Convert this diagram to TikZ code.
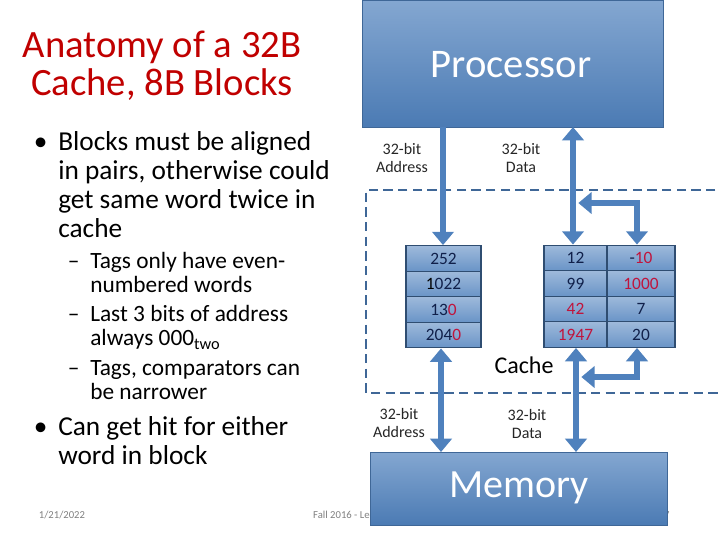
\documentclass[tikz,border=0pt]{standalone}
\usepackage{fontspec}
\setmainfont{Carlito}
\usetikzlibrary{arrows.meta}
\definecolor{ttl}{HTML}{C00000}
\definecolor{ln}{HTML}{4F81BD}
\definecolor{rd}{HTML}{C0143C}
\definecolor{dk}{HTML}{10204A}
\begin{document}
\begin{tikzpicture}[x=0.75pt,y=-0.75pt,
  box/.style={draw=ln!80!black,line width=0.6pt,top color=ln!70!white,bottom color=ln!95!black,text=white},
  cell/.style={draw=ln!60!black,line width=1pt,minimum width=#1*0.75pt,minimum height=25.5*0.75pt,inner sep=0pt,top color=ln!55!white,bottom color=ln!85!white,text=dk,font=\fontsize{13}{14}\selectfont},
  cell/.default=63,
  bus/.style={draw=ln,line width=4.5pt},
  lbl/.style={align=center,font=\fontsize{12}{13}\selectfont,text=black!85},
  big/.style={anchor=north west,align=left,font=\fontsize{20.5}{21.7}\selectfont,inner sep=0pt},
  small/.style={anchor=north west,align=left,font=\fontsize{17.5}{18.3}\selectfont,inner sep=0pt},
  foot/.style={text=black!50,font=\fontsize{8}{9}\selectfont}]
\useasboundingbox (0,0) rectangle (720,540);
% title
\node[text=ttl,align=center,font=\fontsize{29}{28.5}\selectfont] (title) at (162,66) {Anatomy of a 32B\\Cache, 8B Blocks};
% bullets
\node[big] (b1) at (58,131) {\llap{\textbullet\hspace{8pt}}Blocks must be aligned\\in pairs, otherwise could\\get same word twice in\\cache};
\node[small] (b2) at (90,252) {\llap{--\hspace{8pt}}Tags only have even-\\numbered words};
\node[small] (b3) at (90,305) {\llap{--\hspace{8pt}}Last 3 bits of address\\always 000\textsubscript{two}};
\node[small] (b4) at (90,360) {\llap{--\hspace{8pt}}Tags, comparators can\\be narrower};
\node[big] (b5) at (58,416) {\llap{\textbullet\hspace{8pt}}Can get hit for either\\word in block};
% footer
\node[foot] (date) at (62,515) {1/21/2022};
\node[foot] (lec) at (362,515) {Fall 2016 - Lecture \#14};
\node[foot] (pg) at (664,515) {27};
% boxes
\node[box,minimum width=301*0.75pt,minimum height=127*0.75pt] (proc) at (512.5,63.5) {};
\node[text=white,font=\fontsize{30.5}{32}\selectfont] (proct) at (511,65) {Processor};
\node[box,minimum width=297*0.75pt,minimum height=73*0.75pt] (mem) at (518.5,488.5) {};
\node[text=white,font=\fontsize{30}{32}\selectfont] (memt) at (519,488) {Memory};
% cache region
\draw[ln!80!black,line width=2pt,dash pattern=on 7pt off 4pt] (730,190) -- (366,190) -- (366,393) -- (730,393);
\node[font=\fontsize{18}{20}\selectfont] (cachelbl) at (524,365) {Cache};
% tags
\node[cell=75] (t1) at (443.5,258.5) {252};
\node[cell=75] (t2) at (443.5,284) {\textcolor{black}{1}022};
\node[cell=75] (t3) at (443.5,309.5) {13\textcolor{rd}{0}};
\node[cell=75] (t4) at (443.5,335) {204\textcolor{rd}{0}};
% data
\node[cell=63] (d11) at (575.5,258) {12};
\node[cell=63] (d21) at (575.5,283.5) {99};
\node[cell=63,text=rd] (d31) at (575.5,309) {42};
\node[cell=63,text=rd] (d41) at (575.5,334.5) {1947};
\node[cell=68] (d12) at (641,258) {-\textcolor{rd}{10}};
\node[cell=68,text=rd] (d22) at (641,283.5) {1000};
\node[cell=68] (d32) at (641,309) {7};
\node[cell=68] (d42) at (641,334.5) {20};
% bus labels
\node[lbl] (la1) at (402,158) {32-bit\\Address};
\node[lbl] (ld1) at (521,158) {32-bit\\Data};
\node[lbl] (la2) at (399,423) {32-bit\\Address};
\node[lbl] (ld2) at (527,424) {32-bit\\Data};
% buses
\coordinate (pa) at (443,127);
\coordinate (pd) at (573,127);
\coordinate (j1) at (573,203);
\coordinate (k1) at (637,203);
\coordinate (ma) at (441,452);
\coordinate (md) at (576,452);
\coordinate (j2) at (576,377);
\coordinate (k2) at (637,377);
\draw[bus,-{Triangle[width=16pt,length=10pt]}] (pa) -- (t1.north -| pa);
\draw[bus,{Triangle[width=16pt,length=10pt]}-{Triangle[width=16pt,length=10pt]}] (pd) -- (d11.north -| pd);
\draw[bus,{Triangle[width=16pt,length=10pt]}-{Triangle[width=16pt,length=10pt]}] ([xshift=4pt]j1) -- (k1) -- (d12.north -| k1);
\draw[bus,{Triangle[width=16pt,length=10pt]}-{Triangle[width=16pt,length=10pt]}] (t4.south -| ma) -- (ma);
\draw[bus,{Triangle[width=16pt,length=10pt]}-{Triangle[width=16pt,length=10pt]}] (d41.south -| md) -- (md);
\draw[bus,{Triangle[width=16pt,length=10pt]}-{Triangle[width=16pt,length=10pt]}] ([xshift=4pt]j2) -- (k2) -- (d42.south -| k2);
\end{tikzpicture}
\end{document}
